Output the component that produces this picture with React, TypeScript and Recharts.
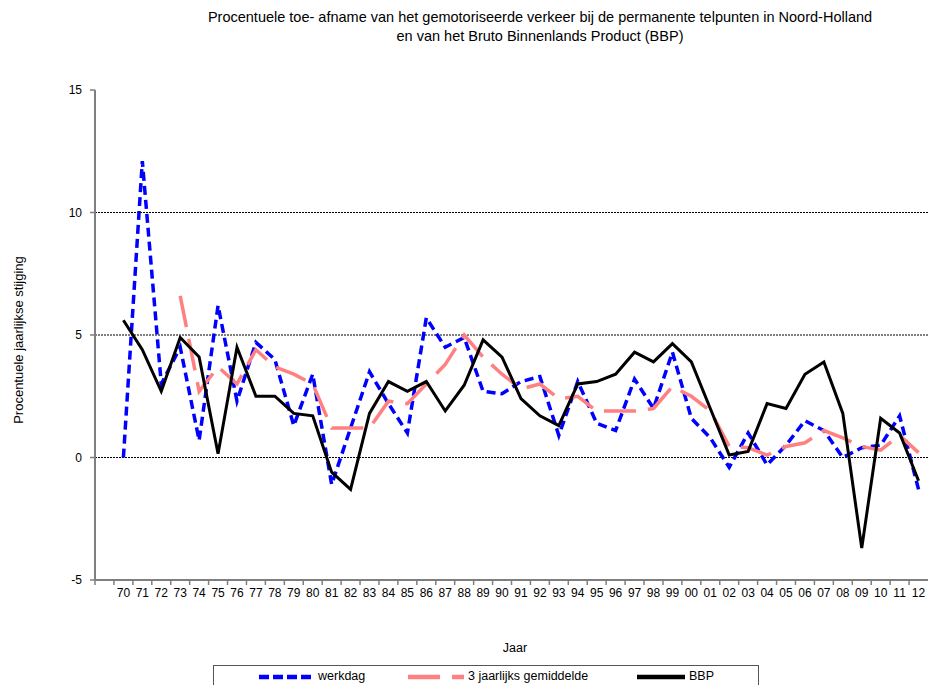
import { LineChart, Line, XAxis, YAxis, ReferenceLine } from "recharts"

const categories = [
  "70", "71", "72", "73", "74", "75", "76", "77", "78", "79",
  "80", "81", "82", "83", "84", "85", "86", "87", "88", "89",
  "90", "91", "92", "93", "94", "95", "96", "97", "98", "99",
  "00", "01", "02", "03", "04", "05", "06", "07", "08", "09",
  "10", "11", "12",
]

const werkdag = [
  0.0, 12.1, 3.0, 4.5, 0.7, 6.2, 2.3, 4.7, 4.0, 1.3,
  3.4, -1.1, 1.2, 3.5, 2.2, 1.0, 5.7, 4.5, 4.9, 2.7,
  2.6, 3.1, 3.3, 0.9, 3.1, 1.4, 1.1, 3.2, 2.0, 4.3,
  1.6, 0.8, -0.4, 1.0, -0.3, 0.5, 1.5, 1.1, 0.0, 0.4,
  0.5, 1.7, -1.3,
]

const gemiddelde = [
  null, null, null, 6.6, 2.7, 3.7, 3.0, 4.4, 3.7, 3.4,
  3.0, 1.2, 1.2, 1.2, 2.3, 2.2, 3.0, 3.8, 5.0, 4.1,
  3.4, 2.8, 3.0, 2.4, 2.5, 1.9, 1.9, 1.9, 2.0, 2.9,
  2.5, 1.9, 0.45, 0.4, 0.1, 0.45, 0.6, 1.1, 0.8, 0.45,
  0.3, 0.9, 0.2,
]

const bbp = [
  5.6, 4.4, 2.7, 4.9, 4.1, 0.15, 4.5, 2.5, 2.5, 1.8,
  1.7, -0.6, -1.3, 1.8, 3.1, 2.7, 3.1, 1.9, 2.95, 4.8,
  4.1, 2.4, 1.7, 1.3, 3.0, 3.1, 3.4, 4.3, 3.9, 4.65,
  3.9, 2.0, 0.1, 0.25, 2.2, 2.0, 3.4, 3.9, 1.8, -3.7,
  1.6, 1.0, -0.95,
]

const yTicks = [-5, 0, 5, 10, 15]
const gridValues = [0, 5, 10]

const data = categories.map((c, i) => ({
  i,
  jaar: c,
  werkdag: werkdag[i],
  gemiddelde: gemiddelde[i],
  bbp: bbp[i],
}))

const W = 928
const H = 685
const font = '"Liberation Sans", Arial, sans-serif'
const axisColor = "#7f7f7f"
// one empty band before the first year, like the original
const domain: [number, number] = [-1.5, categories.length - 0.5]
const band = (W - 95) / (domain[1] - domain[0])

function YearTick(props: any) {
  const { x, y, payload } = props
  const i = payload.value as number
  return (
    <g>
      <line x1={x - band / 2} x2={x - band / 2} y1={y} y2={y + 5} stroke={axisColor} strokeWidth={1.5} />
      {i === 0 && (
        <line x1={x - band * 1.5} x2={x - band * 1.5} y1={y} y2={y + 5} stroke={axisColor} strokeWidth={1.5} />
      )}
      <text x={x} y={y + 17} textAnchor="middle" fontSize={12} fill="#000" fontFamily={font}>
        {categories[i]}
      </text>
    </g>
  )
}

export default function App() {
  return (
    <div style={{ position: "absolute", left: 0, top: 0, width: W, height: H, background: "#fff", fontFamily: font, overflow: "hidden" }}>
      <div style={{ position: "absolute", left: 0, width: 1080, top: 8, textAlign: "center", fontSize: 14.5, lineHeight: "19px" }}>
        Procentuele toe- afname van het gemotoriseerde verkeer bij de permanente telpunten in Noord-Holland
        <br />
        en van het Bruto Binnenlands Product (BBP)
      </div>
      <div
        style={{
          position: "absolute",
          left: 18,
          top: 340,
          fontSize: 13,
          whiteSpace: "nowrap",
          transform: "translate(-50%, -50%) rotate(-90deg)",
        }}
      >
        Procentuele jaarlijkse stijging
      </div>
      <div style={{ position: "absolute", left: 515, top: 648, fontSize: 12.5, transform: "translate(-50%, -50%)" }}>Jaar</div>

      <LineChart width={W} height={H} data={data} margin={{ top: 90, right: 0, bottom: 75, left: 40 }}>
        <XAxis
          dataKey="i"
          type="number"
          domain={domain}
          ticks={categories.map((_, i) => i)}
          interval={0}
          height={30}
          tickSize={0}
          tickMargin={0}
          tickLine={false}
          axisLine={{ stroke: axisColor, strokeWidth: 2 }}
          tick={<YearTick />}
        />
        <YAxis
          domain={[-5, 15]}
          ticks={yTicks}
          width={55}
          tickSize={5}
          tickMargin={8}
          axisLine={{ stroke: axisColor, strokeWidth: 2 }}
          tickLine={{ stroke: axisColor, strokeWidth: 1.5 }}
          tick={{ fontSize: 12, fill: "#000", fontFamily: font }}
        />
        {gridValues.map((v) => (
          <ReferenceLine key={v} y={v} stroke="#000" strokeWidth={1} strokeDasharray="2 1" />
        ))}
        <Line dataKey="werkdag" stroke="#0000ff" strokeWidth={3.5} strokeDasharray="9 5" dot={false} isAnimationActive={false} />
        <Line dataKey="gemiddelde" stroke="#ff8080" strokeWidth={3.5} strokeDasharray="32 12" dot={false} isAnimationActive={false} />
        <Line dataKey="bbp" stroke="#000" strokeWidth={3} dot={false} isAnimationActive={false} />
      </LineChart>

      <div style={{ position: "absolute", left: 213, top: 665, width: 544, height: 40, border: "1.5px solid #555", background: "#fff", fontSize: 12.5 }}>
        <svg style={{ position: "absolute", left: 0, top: 0 }} width={544} height={24}>
          <line x1={45} x2={97} y1={11} y2={11} stroke="#0000ff" strokeWidth={4.5} strokeDasharray="10 4" />
          <line x1={194} x2={250} y1={11} y2={11} stroke="#ff8080" strokeWidth={4.5} strokeDasharray="32 12" />
          <line x1={423} x2={471} y1={11} y2={11} stroke="#000" strokeWidth={4.5} />
        </svg>
        <span style={{ position: "absolute", left: 104, top: 3 }}>werkdag</span>
        <span style={{ position: "absolute", left: 254, top: 3 }}>3 jaarlijks gemiddelde</span>
        <span style={{ position: "absolute", left: 475, top: 3 }}>BBP</span>
      </div>
    </div>
  )
}
